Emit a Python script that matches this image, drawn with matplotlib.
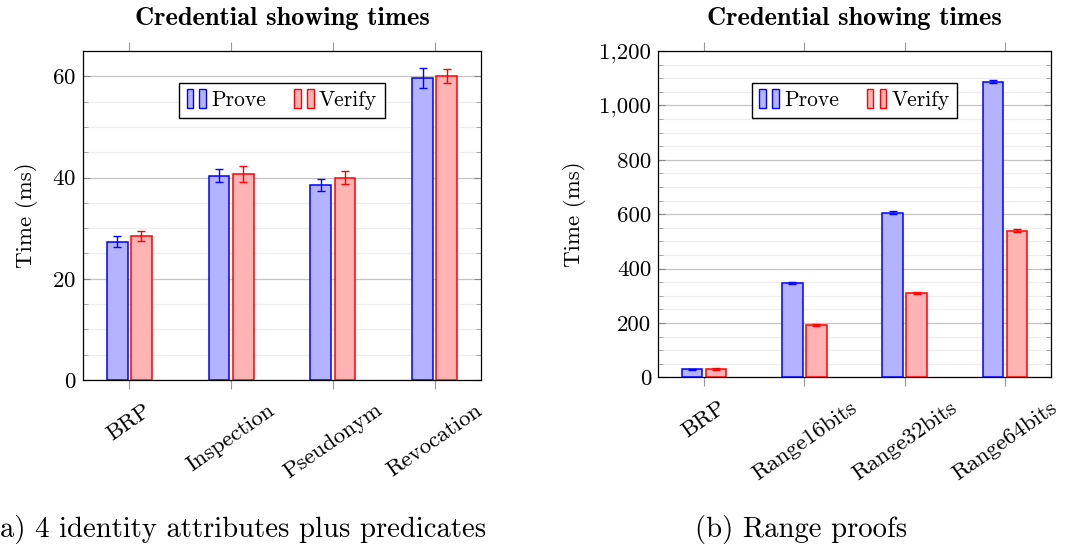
import matplotlib
matplotlib.use('Agg')
import matplotlib.pyplot as plt
import numpy as np
from matplotlib.patches import Rectangle
from matplotlib.legend_handler import HandlerBase
from matplotlib.ticker import MultipleLocator, FuncFormatter

plt.rcParams['font.family'] = ['cmr10', 'DejaVu Serif']
plt.rcParams['axes.formatter.use_mathtext'] = True
plt.rcParams['font.size'] = 16.5

# data
cats_a = ['BRP', 'Inspection', 'Pseudonym', 'Revocation']
prove_a = [27.3, 40.4, 38.5, 59.6]
prove_a_err = [1.1, 1.35, 1.2, 2.0]
verify_a = [28.5, 40.7, 40.0, 60.1]
verify_a_err = [1.0, 1.5, 1.35, 1.35]

cats_b = ['BRP', 'Range16bits', 'Range32bits', 'Range64bits']
prove_b = [29, 348, 606, 1088]
prove_b_err = [3, 4, 4, 7]
verify_b = [31, 193, 309, 539]
verify_b_err = [3, 3, 4, 6]

BLUE = '#0000ff'
RED = '#ff0000'
BLUE_FILL = '#b3b3ff'
RED_FILL = '#ffb3b3'


class TwoBars(HandlerBase):
    def __init__(self, fill, edge):
        super().__init__()
        self.fill = fill
        self.edge = edge

    def create_artists(self, legend, orig_handle, xdescent, ydescent,
                       width, height, fontsize, trans):
        w = width * 0.34
        h = height * 1.25
        y0 = -ydescent - height * 0.12
        r1 = Rectangle((-xdescent, y0), w, h, facecolor=self.fill,
                       edgecolor=self.edge, lw=1.0, transform=trans)
        r2 = Rectangle((-xdescent + width * 0.66, y0), w, h, facecolor=self.fill,
                       edgecolor=self.edge, lw=1.0, transform=trans)
        return [r1, r2]


def panel(ax, cats, prove, prove_err, verify, verify_err, ymax, major, minor, comma):
    x = np.arange(len(cats))
    bw = 0.205
    off = 0.119
    b1 = ax.bar(x - off, prove, bw, color=BLUE_FILL, edgecolor=BLUE, lw=1.1, zorder=3)
    b2 = ax.bar(x + off, verify, bw, color=RED_FILL, edgecolor=RED, lw=1.1, zorder=3)
    ax.errorbar(x - off, prove, yerr=prove_err, fmt='none', ecolor=BLUE, elinewidth=1.0,
                capsize=3, capthick=1.0, zorder=4)
    ax.errorbar(x + off, verify, yerr=verify_err, fmt='none', ecolor=RED, elinewidth=1.0,
                capsize=3, capthick=1.0, zorder=4)
    ax.set_xlim(-0.455, len(cats) - 1 + 0.455)
    ax.set_ylim(0, ymax)
    ax.set_xticks(x)
    ax.set_xticklabels(cats, rotation=35, ha='center', va='top')
    ax.yaxis.set_major_locator(MultipleLocator(major))
    ax.yaxis.set_minor_locator(MultipleLocator(minor))
    if comma:
        ax.yaxis.set_major_formatter(FuncFormatter(lambda v, p: f'{int(v):,}'))
    ax.grid(which='major', axis='y', color='#c4c4c4', lw=0.9, zorder=0)
    ax.grid(which='minor', axis='y', color='#ededed', lw=0.9, zorder=0)
    ax.tick_params(axis='x', direction='out', top=True, bottom=True, length=6.5,
                   width=0.8, color='#999999', pad=8)
    ax.tick_params(axis='y', which='major', direction='in', left=True, right=True,
                   length=5, width=0.8, color='#888888', pad=5)
    ax.tick_params(axis='y', which='minor', direction='in', left=True, right=True,
                   length=3.5, width=0.6, color='#999999')
    for s in ax.spines.values():
        s.set_linewidth(0.9)
    ax.set_ylabel('Time (ms)', labelpad=10)
    ax.set_title('Credential showing times', fontfamily='cmb10', fontsize=19, pad=19)
    ax.legend([b1, b2], ['Prove', 'Verify'], ncol=2, loc='upper center',
              bbox_to_anchor=(0.5, 0.902), fancybox=False, edgecolor='black',
              framealpha=1, fontsize=15.5, handlelength=0.9, handletextpad=0.25,
              columnspacing=1.3, borderpad=0.35, borderaxespad=0,
              handler_map={b1: TwoBars(BLUE_FILL, BLUE), b2: TwoBars(RED_FILL, RED)})


fig = plt.figure(figsize=(10.65, 5.52), dpi=100)
ax1 = fig.add_axes([0.0779, 0.3116, 0.3737, 0.596])
ax2 = fig.add_axes([0.6181, 0.3165, 0.3685, 0.591])

panel(ax1, cats_a, prove_a, prove_a_err, verify_a, verify_a_err, 65, 20, 5, False)
panel(ax2, cats_b, prove_b, prove_b_err, verify_b, verify_b_err, 1200, 200, 50, True)

fig.text(0.0, 0.04, 'a) 4 identity attributes plus predicates', fontsize=20.7,
         ha='left', va='center')
fig.text(0.6526, 0.04, '(b) Range proofs', fontsize=20.7, ha='left', va='center')

fig.savefig('out.png', dpi=100)
